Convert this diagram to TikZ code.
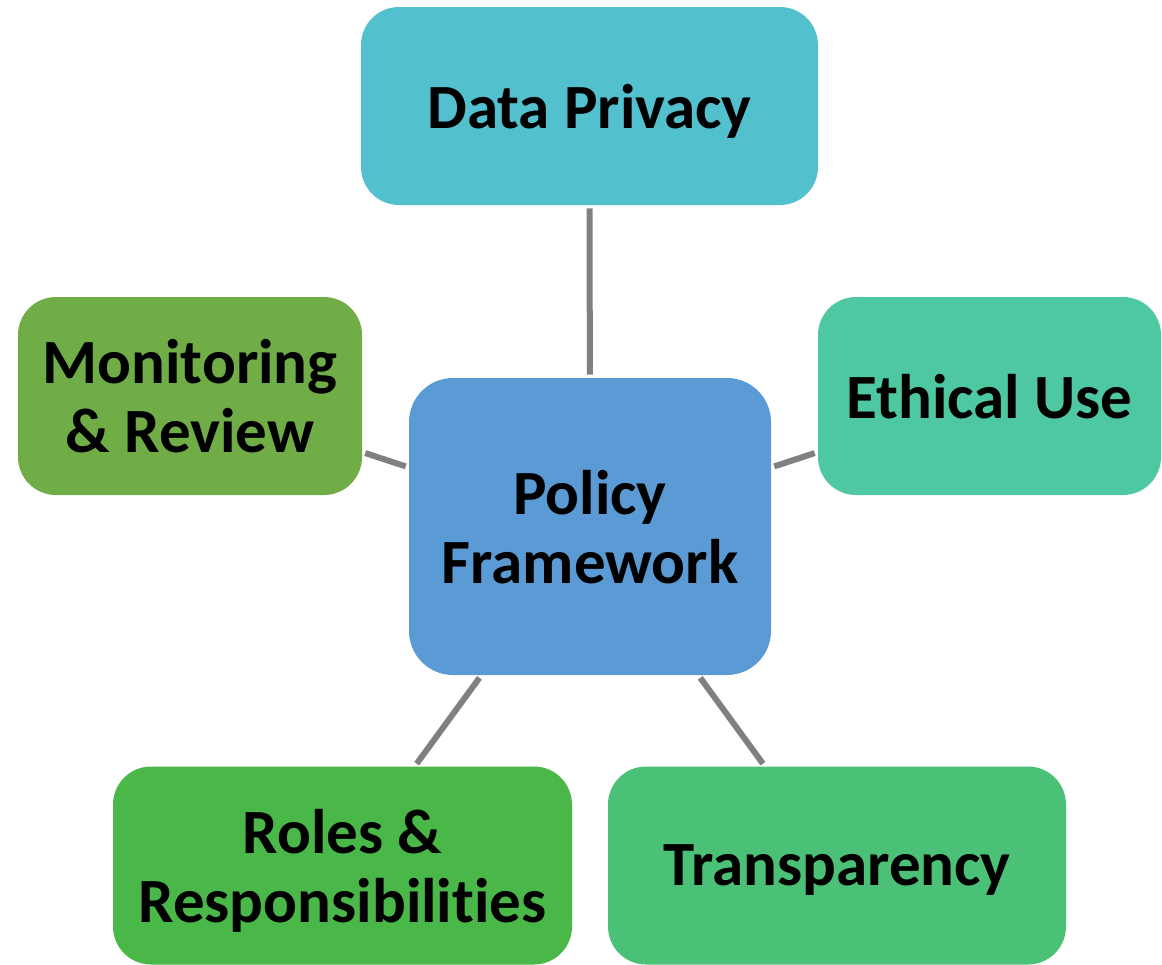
\documentclass[tikz,border=0pt]{standalone}
\usepackage{fontspec}
\setmainfont{Carlito}[Ligatures=NoCommon]
\usetikzlibrary{arrows.meta}
\definecolor{qqccdd}{rgb}{0.3255,0.7529,0.8039}
\definecolor{wwbbqq}{rgb}{0.4392,0.6784,0.2784}
\definecolor{qqddaa}{rgb}{0.3059,0.7804,0.6392}
\definecolor{xdxdff}{rgb}{0.3569,0.6078,0.8353}
\definecolor{qqwuqq}{rgb}{0.2902,0.7216,0.2824}
\definecolor{qqccww}{rgb}{0.2941,0.7529,0.4667}
\definecolor{uuuuuu}{rgb}{0.5,0.5,0.5}

\begin{document}
\begin{tikzpicture}[line cap=butt,line join=round,x=0.5pt,y=-0.5pt,
  box/.style={rounded corners=19pt,inner sep=0pt,align=center,text=black,text depth=0pt,
    font=\bfseries\fontsize{31.5}{34.5}\selectfont,minimum height=99pt},
  link/.style={line width=3pt,color=uuuuuu,shorten <=1.5pt,shorten >=1.5pt}]
\useasboundingbox (0,0) rectangle (1162,964);
% outer boxes
\node[box,fill=qqccdd,minimum width=228.5pt] (dp) at (589.5,106) {Data Privacy};
\node[box,fill=wwbbqq,minimum width=172pt] (mr) at (190,396) {Monitoring\\\& Review};
\node[box,fill=qqddaa,minimum width=171.5pt] (eu) at (989.5,396) {Ethical Use};
\node[box,fill=qqwuqq,minimum width=229.5pt] (rr) at (342.5,865.5) {Roles \&\\Responsibilities};
\node[box,fill=qqccww,minimum width=229pt] (tr) at (837,865.5) {Transparency};
% centre
\node[box,fill=xdxdff,rounded corners=22pt,minimum width=181pt,minimum height=148.5pt] (pf) at (590,526.5) {Policy\\Framework};
% connectors
\draw[link] (pf) -- (dp);
\draw[link] (pf) -- (mr);
\draw[link] (pf) -- (eu);
\draw[link] (pf) -- (rr);
\draw[link] (pf) -- (tr);
\end{tikzpicture}
\end{document}
